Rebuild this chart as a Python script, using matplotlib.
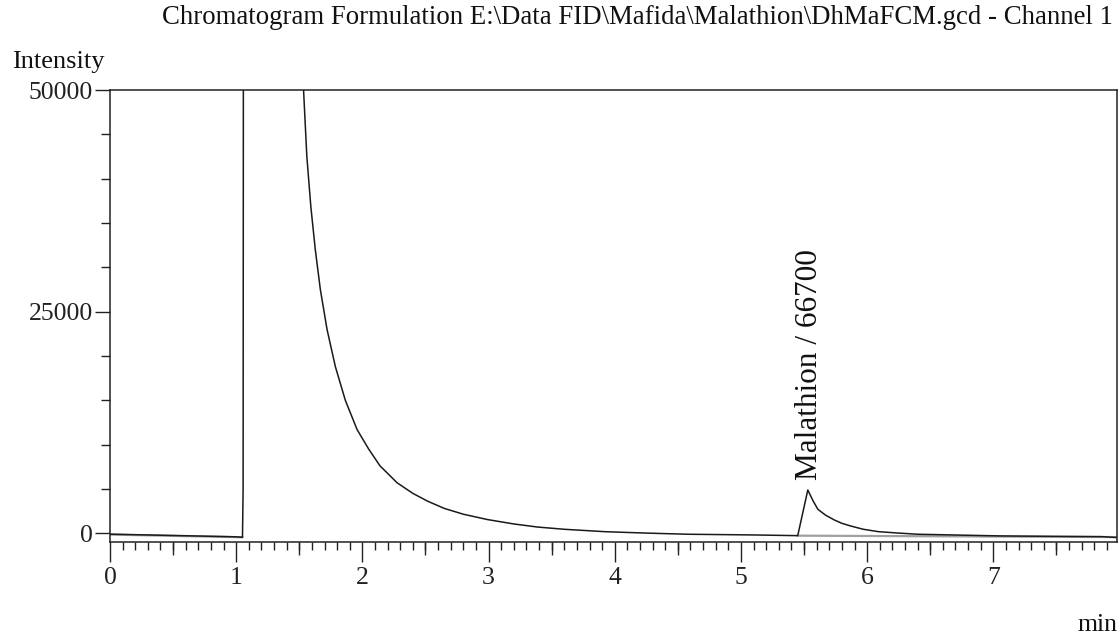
import matplotlib
matplotlib.use("Agg")
import matplotlib.pyplot as plt
from matplotlib.ticker import MultipleLocator

# detector trace (time in min, intensity)
time_min = [0.0, 0.5, 1.0, 1.05, 1.055, 1.06, 1.30, 1.45, 1.534, 1.56, 1.592,
            1.627, 1.667, 1.72, 1.786, 1.865, 1.958, 2.05, 2.14, 2.275, 2.40,
            2.52, 2.65, 2.80, 2.99, 3.20, 3.39, 3.60, 3.92, 4.25, 4.58, 5.10,
            5.45, 5.53, 5.57, 5.61, 5.67, 5.74, 5.80, 5.87, 5.97, 6.09, 6.25,
            6.40, 7.06, 7.50, 7.86, 7.98]
intensity = [-100, -250, -400, -450, 5000, 120000, 90000, 62000, 50000, 42500,
             36800, 32000, 27500, 23000, 18800, 15000, 11700, 9500, 7600, 5700,
             4500, 3600, 2800, 2150, 1550, 1050, 700, 450, 180, 20, -110, -190,
             -270, 4880, 3700, 2700, 2050, 1500, 1120, 820, 450, 180, 20,
             -110, -300, -350, -380, -480]

# integration baselines (drawn light grey under the trace)
base1_x = [0.0, 1.05]
base1_y = [-150, -450]
base2_x = [5.45, 7.98]
base2_y = [-270, -430]

peak_name = "Malathion"
peak_area = 66700
peak_time = 5.53
peak_height = 4880

y_ticks = [0, 25000, 50000]
x_ticks = [0, 1, 2, 3, 4, 5, 6, 7]
mid_ticks = [0.5, 1.5, 2.5, 3.5, 4.5, 5.5, 6.5, 7.5]

FONT = "Liberation Serif"
plt.rcParams['font.family'] = [FONT, 'DejaVu Serif']

fig = plt.figure(figsize=(11.2, 6.34), dpi=100)
ax = fig.add_axes([0.0982, 0.1456, 0.8991, 0.7124])

ax.plot(base1_x, base1_y, color='#a0a0a0', lw=1.6)
ax.plot(base2_x, base2_y, color='#a0a0a0', lw=1.6)
ax.plot(time_min, intensity, color='#1a1a1a', lw=1.1)

ax.set_xlim(0, 7.98)
ax.set_ylim(-950, 50000)

ax.set_xticks(x_ticks)
ax.set_xticklabels([str(t) for t in x_ticks])
ax.xaxis.set_minor_locator(MultipleLocator(0.1))
ax.set_yticks(y_ticks)
ax.set_yticklabels([str(t) for t in y_ticks])
ax.yaxis.set_minor_locator(MultipleLocator(5000))

ax.tick_params(axis='x', which='major', direction='out', length=14.4, width=1.0,
               pad=4, labelsize=18.5, colors='#222222')
ax.tick_params(axis='x', which='minor', direction='out', length=5.8, width=1.0,
               colors='#222222')
ax.tick_params(axis='y', which='major', direction='out', length=10.8, width=1.0,
               pad=1.5, labelsize=18.5, colors='#222222')
ax.tick_params(axis='y', which='minor', direction='out', length=6.5, width=1.0,
               colors='#222222')

# medium ticks at the half minutes
sec = ax.secondary_xaxis('bottom')
sec.set_xticks(mid_ticks)
sec.set_xticklabels([])
sec.tick_params(direction='out', length=9.4, width=1.0, colors='#222222')
sec.spines['bottom'].set_visible(False)

for s in ax.spines.values():
    s.set_linewidth(1.1)
    s.set_color('#222222')

ax.annotate(f"{peak_name} / {peak_area}", xy=(peak_time, peak_height),
            xytext=(1, 7), textcoords='offset points', rotation=90,
            ha='center', va='bottom', fontsize=22.5, color='#111111')

fig.text(1113 / 1120, 1 - 17 / 634,
         r"Chromatogram Formulation E:\Data FID\Mafida\Malathion\DhMaFCM.gcd - Channel 1",
         ha='right', va='center', fontsize=19.3, color='#111111')
fig.text(105 / 1120, 1 - 62 / 634, "Intensity", ha='right', va='center',
         fontsize=19, color='#111111')
fig.text(1117 / 1120, 1 - 625 / 634, "min", ha='right', va='center',
         fontsize=18.5, color='#111111')

fig.savefig("out.png", dpi=100)
